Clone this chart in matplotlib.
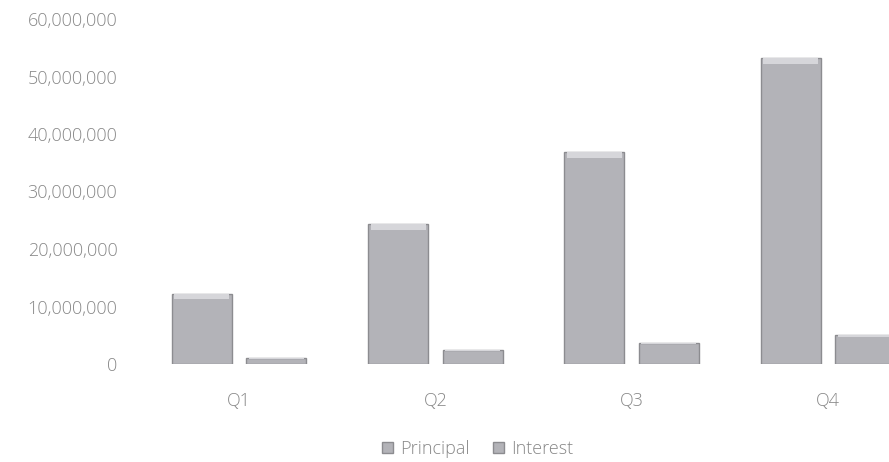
import matplotlib
matplotlib.use("Agg")
import matplotlib.pyplot as plt
import numpy as np
from matplotlib.ticker import FuncFormatter, MultipleLocator

categories = ["Q1", "Q2", "Q3", "Q4"]
principal = [12200000, 24400000, 36900000, 53300000]
interest = [1000000, 2400000, 3700000, 5100000]
series_names = ["Principal", "Interest"]

plt.rcParams['font.family'] = ['Open Sans', 'DejaVu Sans']
plt.rcParams['font.weight'] = 'light'

fig = plt.figure(figsize=(8.89, 4.62), dpi=100)
ax = fig.add_axes([141/889, 98/462, 785/889, 345/462])

x = np.arange(len(categories))
w = 0.305
off = 0.19
face = '#b3b3b8'
edge = '#8c8c90'
for vals, o, name in [(principal, -off, series_names[0]), (interest, off, series_names[1])]:
    ax.bar(x + o, vals, width=w, color=face, edgecolor=edge, linewidth=1.0, label=name, zorder=2)
    # bevel highlight at top of each bar
    hl = [min(v * 0.08, 1100000) for v in vals]
    ax.bar(x + o, hl, width=w * 0.92, bottom=[v - h for v, h in zip(vals, hl)],
           color='#d6d6da', linewidth=0, zorder=3)

ax.set_xlim(-0.5, 3.5)
ax.set_ylim(0, 60000000)
ax.yaxis.set_major_locator(MultipleLocator(10000000))
ax.yaxis.set_major_formatter(FuncFormatter(lambda v, p: f"{int(v):,}"))
ax.set_xticks(x)
ax.set_xticklabels(categories)
for s in ax.spines.values():
    s.set_visible(False)
ax.tick_params(axis='both', length=0, colors='#888888', labelsize=13)
ax.tick_params(axis='y', pad=17)
ax.tick_params(axis='x', pad=20)

handles, labels = ax.get_legend_handles_labels()
leg = fig.legend(handles[:2], labels[:2], loc='center', bbox_to_anchor=(478/889, 1 - 449/462),
                 ncol=2, frameon=False, fontsize=13, handlelength=0.6, handleheight=0.6,
                 handletextpad=0.4, columnspacing=1.3)
for t in leg.get_texts():
    t.set_color('#888888')

fig.savefig("out.png", dpi=100)
